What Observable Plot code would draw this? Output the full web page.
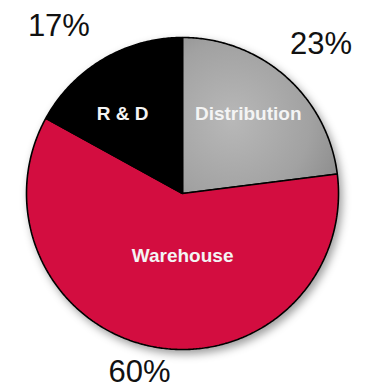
<!DOCTYPE html>
<html>
<head>
<meta charset="utf-8">
<script src="https://cdn.jsdelivr.net/npm/d3@7"></script>
<script src="https://cdn.jsdelivr.net/npm/@observablehq/plot@0.6"></script>
<style>
  html, body { margin: 0; padding: 0; background: #fff; }
  #chart svg { display: block; }
</style>
</head>
<body>
<div id="chart"></div>
<script>
// ---- Data ----
const categories = ["Distribution", "Warehouse", "R & D"];
const shares = [23, 60, 17];
const percentLabels = ["23%", "60%", "17%"];
const sliceColors = ["#a3a3a3", "#d3113f", "#000000"];

// ---- Layout helpers (not data) ----
const pie = d3.pie().sort(null).value(d => d.value).startAngle(0).endAngle(2 * Math.PI);
const rows = categories.map((c, i) => ({category: c, value: shares[i], pct: percentLabels[i]}));
const arcs = pie(rows);

// polygon points in unit coordinates (y up), clockwise from 12 o'clock
const polyPts = [];
arcs.forEach(a => {
  polyPts.push({category: a.data.category, x: 0, y: 0});
  const n = Math.max(8, Math.ceil((a.endAngle - a.startAngle) / 0.01));
  for (let k = 0; k <= n; k++) {
    const t = a.startAngle + (a.endAngle - a.startAngle) * k / n;
    polyPts.push({category: a.data.category, x: Math.sin(t), y: Math.cos(t)});
  }
});

const inner = {"Distribution": {r: 0.66, da: -0.03}, "Warehouse": {r: 0.4, da: -0.19}, "R & D": {r: 0.64, da: -0.11}};
const outer = {"Distribution": {r: 1.304, da: 0.026}, "Warehouse": {r: 1.18, da: 0.047}, "R & D": {r: 1.332, da: -0.103}};
const at = (a, o) => {
  const m = (a.startAngle + a.endAngle) / 2 + o.da;
  return {x: o.r * Math.sin(m), y: o.r * Math.cos(m)};
};
const innerLabels = arcs.map(a => ({label: a.data.category, ...at(a, inner[a.data.category])}));
const outerLabels = arcs.map(a => ({label: a.data.pct, ...at(a, outer[a.data.category])}));

const chart = Plot.plot({
  width: 370,
  height: 392,
  marginLeft: 26,
  marginRight: 32,
  marginTop: 37,
  marginBottom: 43,
  x: {domain: [-1, 1], axis: null},
  y: {domain: [-1, 1], axis: null},
  color: {domain: categories, range: sliceColors},
  style: {fontFamily: "Liberation Sans, Arial, Helvetica, sans-serif", background: "#fff"},
  marks: [
    Plot.line(polyPts, {
      x: "x", y: "y", z: "category", fill: "category",
      stroke: "#000", strokeWidth: 1.6, strokeLinejoin: "miter",
      curve: "linear-closed", className: "slice"
    }),
    Plot.text(innerLabels, {
      x: "x", y: "y", text: "label", fill: "#f4f4f4",
      fontSize: 19, fontWeight: "bold"
    }),
    Plot.text(outerLabels, {
      x: "x", y: "y", text: "label", fill: "#111",
      fontSize: 31, fontWeight: "normal"
    })
  ]
});

// soft drop shadow + subtle radial shading on the grey slice
const ns = "http://www.w3.org/2000/svg";
const defs = document.createElementNS(ns, "defs");
defs.innerHTML = `
  <filter id="pieShadow" x="-20%" y="-20%" width="140%" height="140%">
    <feDropShadow dx="3" dy="4" stdDeviation="4.5" flood-color="#000" flood-opacity="0.38"/>
  </filter>
  <radialGradient id="greyGrad" gradientUnits="userSpaceOnUse" cx="232" cy="120" r="130">
    <stop offset="0" stop-color="#b8b8b8"/>
    <stop offset="0.6" stop-color="#a2a2a2"/>
    <stop offset="1" stop-color="#878787"/>
  </radialGradient>`;
chart.insertBefore(defs, chart.firstChild);
const sliceG = chart.querySelector("g.slice") || chart.querySelector("g[aria-label=line]");
if (sliceG) {
  sliceG.setAttribute("filter", "url(#pieShadow)");
  sliceG.querySelectorAll("path").forEach(p => {
    if ((p.getAttribute("fill") || "").toLowerCase() === sliceColors[0]) p.setAttribute("fill", "url(#greyGrad)");
  });
}
document.getElementById("chart").appendChild(chart);
</script>
</body>
</html>
